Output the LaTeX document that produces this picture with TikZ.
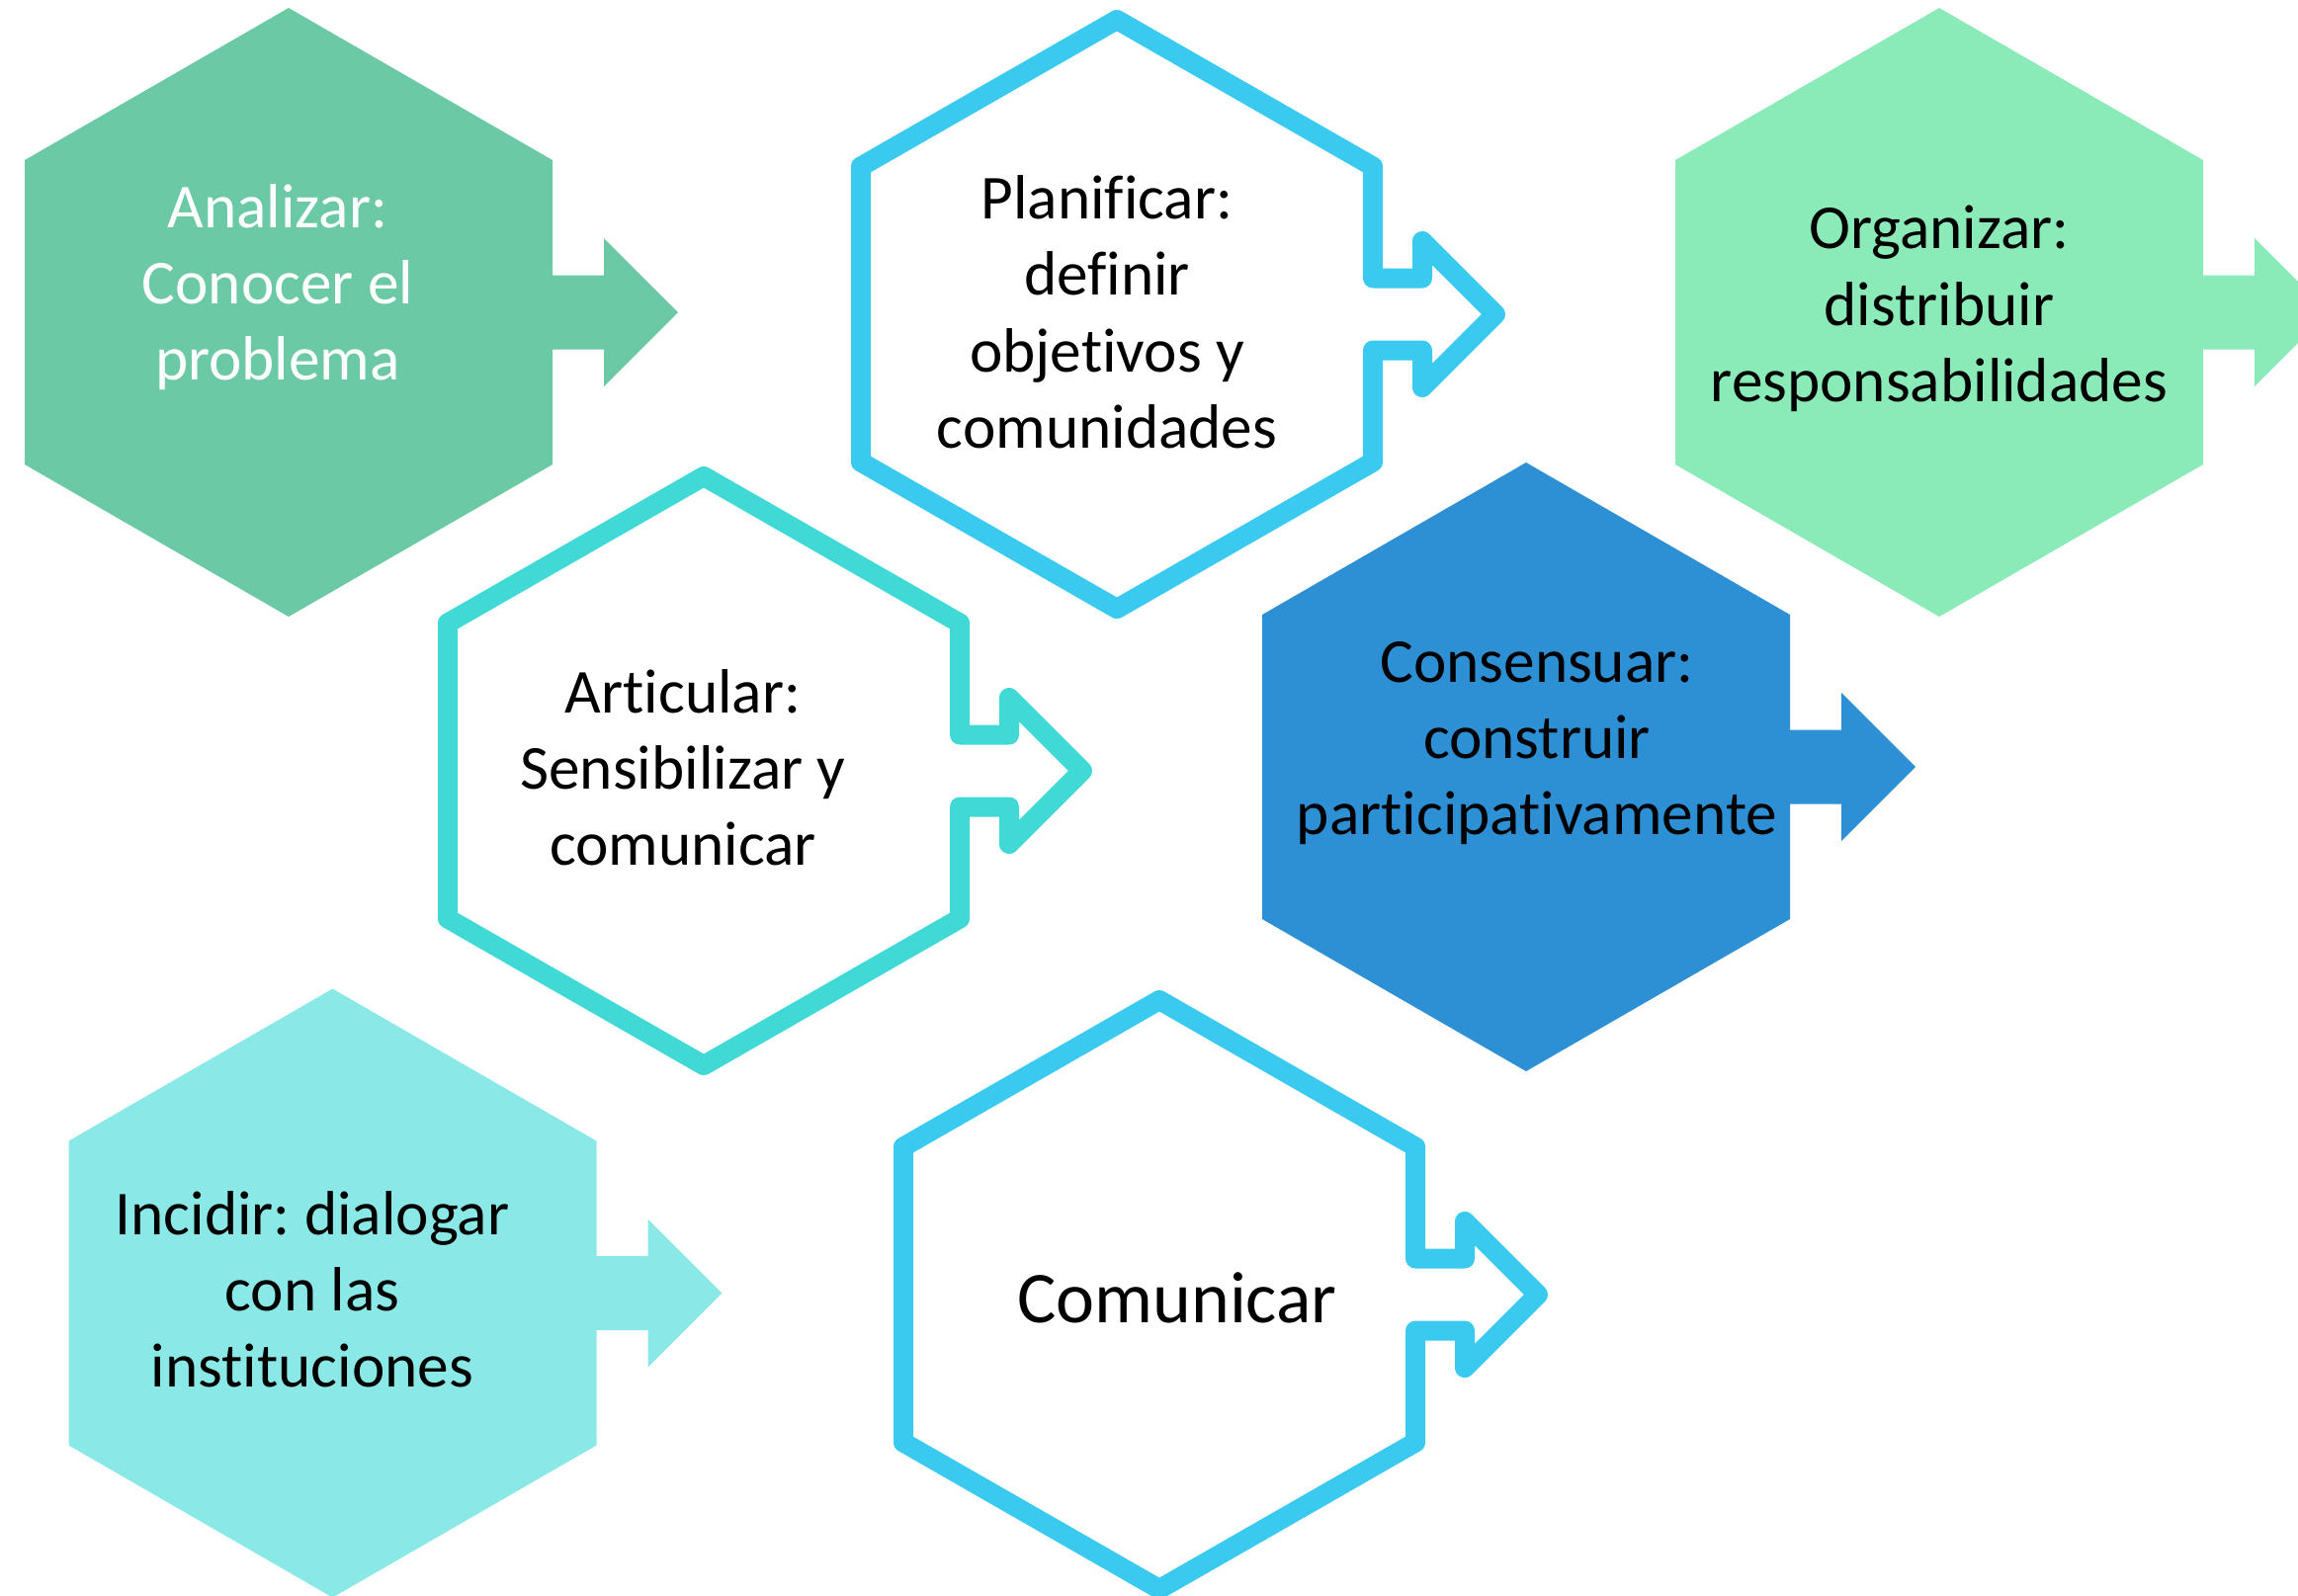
\documentclass[tikz,border=0pt]{standalone}
\usepackage{fontspec}
\setmainfont{Carlito}[Ligatures={NoCommon}]
\frenchspacing
\definecolor{cAnal}{HTML}{6CC9A6}
\definecolor{cPlan}{HTML}{3AC9EF}
\definecolor{cOrg}{HTML}{8BEBB8}
\definecolor{cArt}{HTML}{40D9D6}
\definecolor{cCons}{HTML}{2E90D4}
\definecolor{cInc}{HTML}{8AE9E7}
\tikzset{
  pics/hexsolid/.style={code={
    \fill[#1] (0,-308) -- (267,-154) -- (267,-37.5) -- (319,-37.5) -- (319,-75)
      -- (394,0) -- (319,75) -- (319,37.5) -- (267,37.5) -- (267,154)
      -- (0,308) -- (-267,154) -- (-267,-154) -- cycle;
  }},
  pics/hexline/.style={code={
    \draw[#1, line width=0.2cm, line join=round] (0,-298) -- (259,-149.5) -- (259,-36.5)
      -- (309,-36.5) -- (309,-74) -- (383,0) -- (309,74) -- (309,36.5)
      -- (259,36.5) -- (259,149.5) -- (0,298) -- (-259,149.5) -- (-259,-149.5) -- cycle;
  }},
  txt/.style={anchor=base, align=center, inner sep=0pt, text=black,
    font=\fontsize{18pt}{21.9pt}\selectfont},
}
\begin{document}
\begin{tikzpicture}[x=0.01cm, y=-0.01cm]
\useasboundingbox (0,0) rectangle (2325,1614);
\clip (0,0) rectangle (2325,1614);
% shapes
\pic at (292,316) {hexsolid=cAnal};
\pic at (1130,318) {hexline=cPlan};
\pic at (1962,316) {hexsolid=cOrg};
\pic at (712,780) {hexline=cArt};
\pic at (1544,776) {hexsolid=cCons};
\pic at (336.5,1308.5) {hexsolid=cInc};
\pic at (1173,1310) {hexline=cPlan};
% texts (anchored at the baseline of their last line)
\node[txt, text=white] (analizar) at (281,384.5) {Analizar:\\Conocer el\\problema};
\node[txt] (planificar) at (1120,453) {Planificar:\\definir\\objetivos y\\comunidades};
\node[txt] (organizar) at (1962,406) {Organizar:\\distribuir\\responsabilidades};
\node[txt] (articular) at (691,875.5) {Articular:\\Sensibilizar y\\comunicar};
\node[txt] (consensuar) at (1555,844.5) {Consensuar:\\construir\\participativamente};
\node[txt] (incidir) at (316,1403.8) {Incidir: dialogar\\con las\\instituciones};
\node[txt, font=\fontsize{21pt}{25pt}\selectfont] (comunicar) at (1191,1338) {Comunicar};
\end{tikzpicture}
\end{document}
